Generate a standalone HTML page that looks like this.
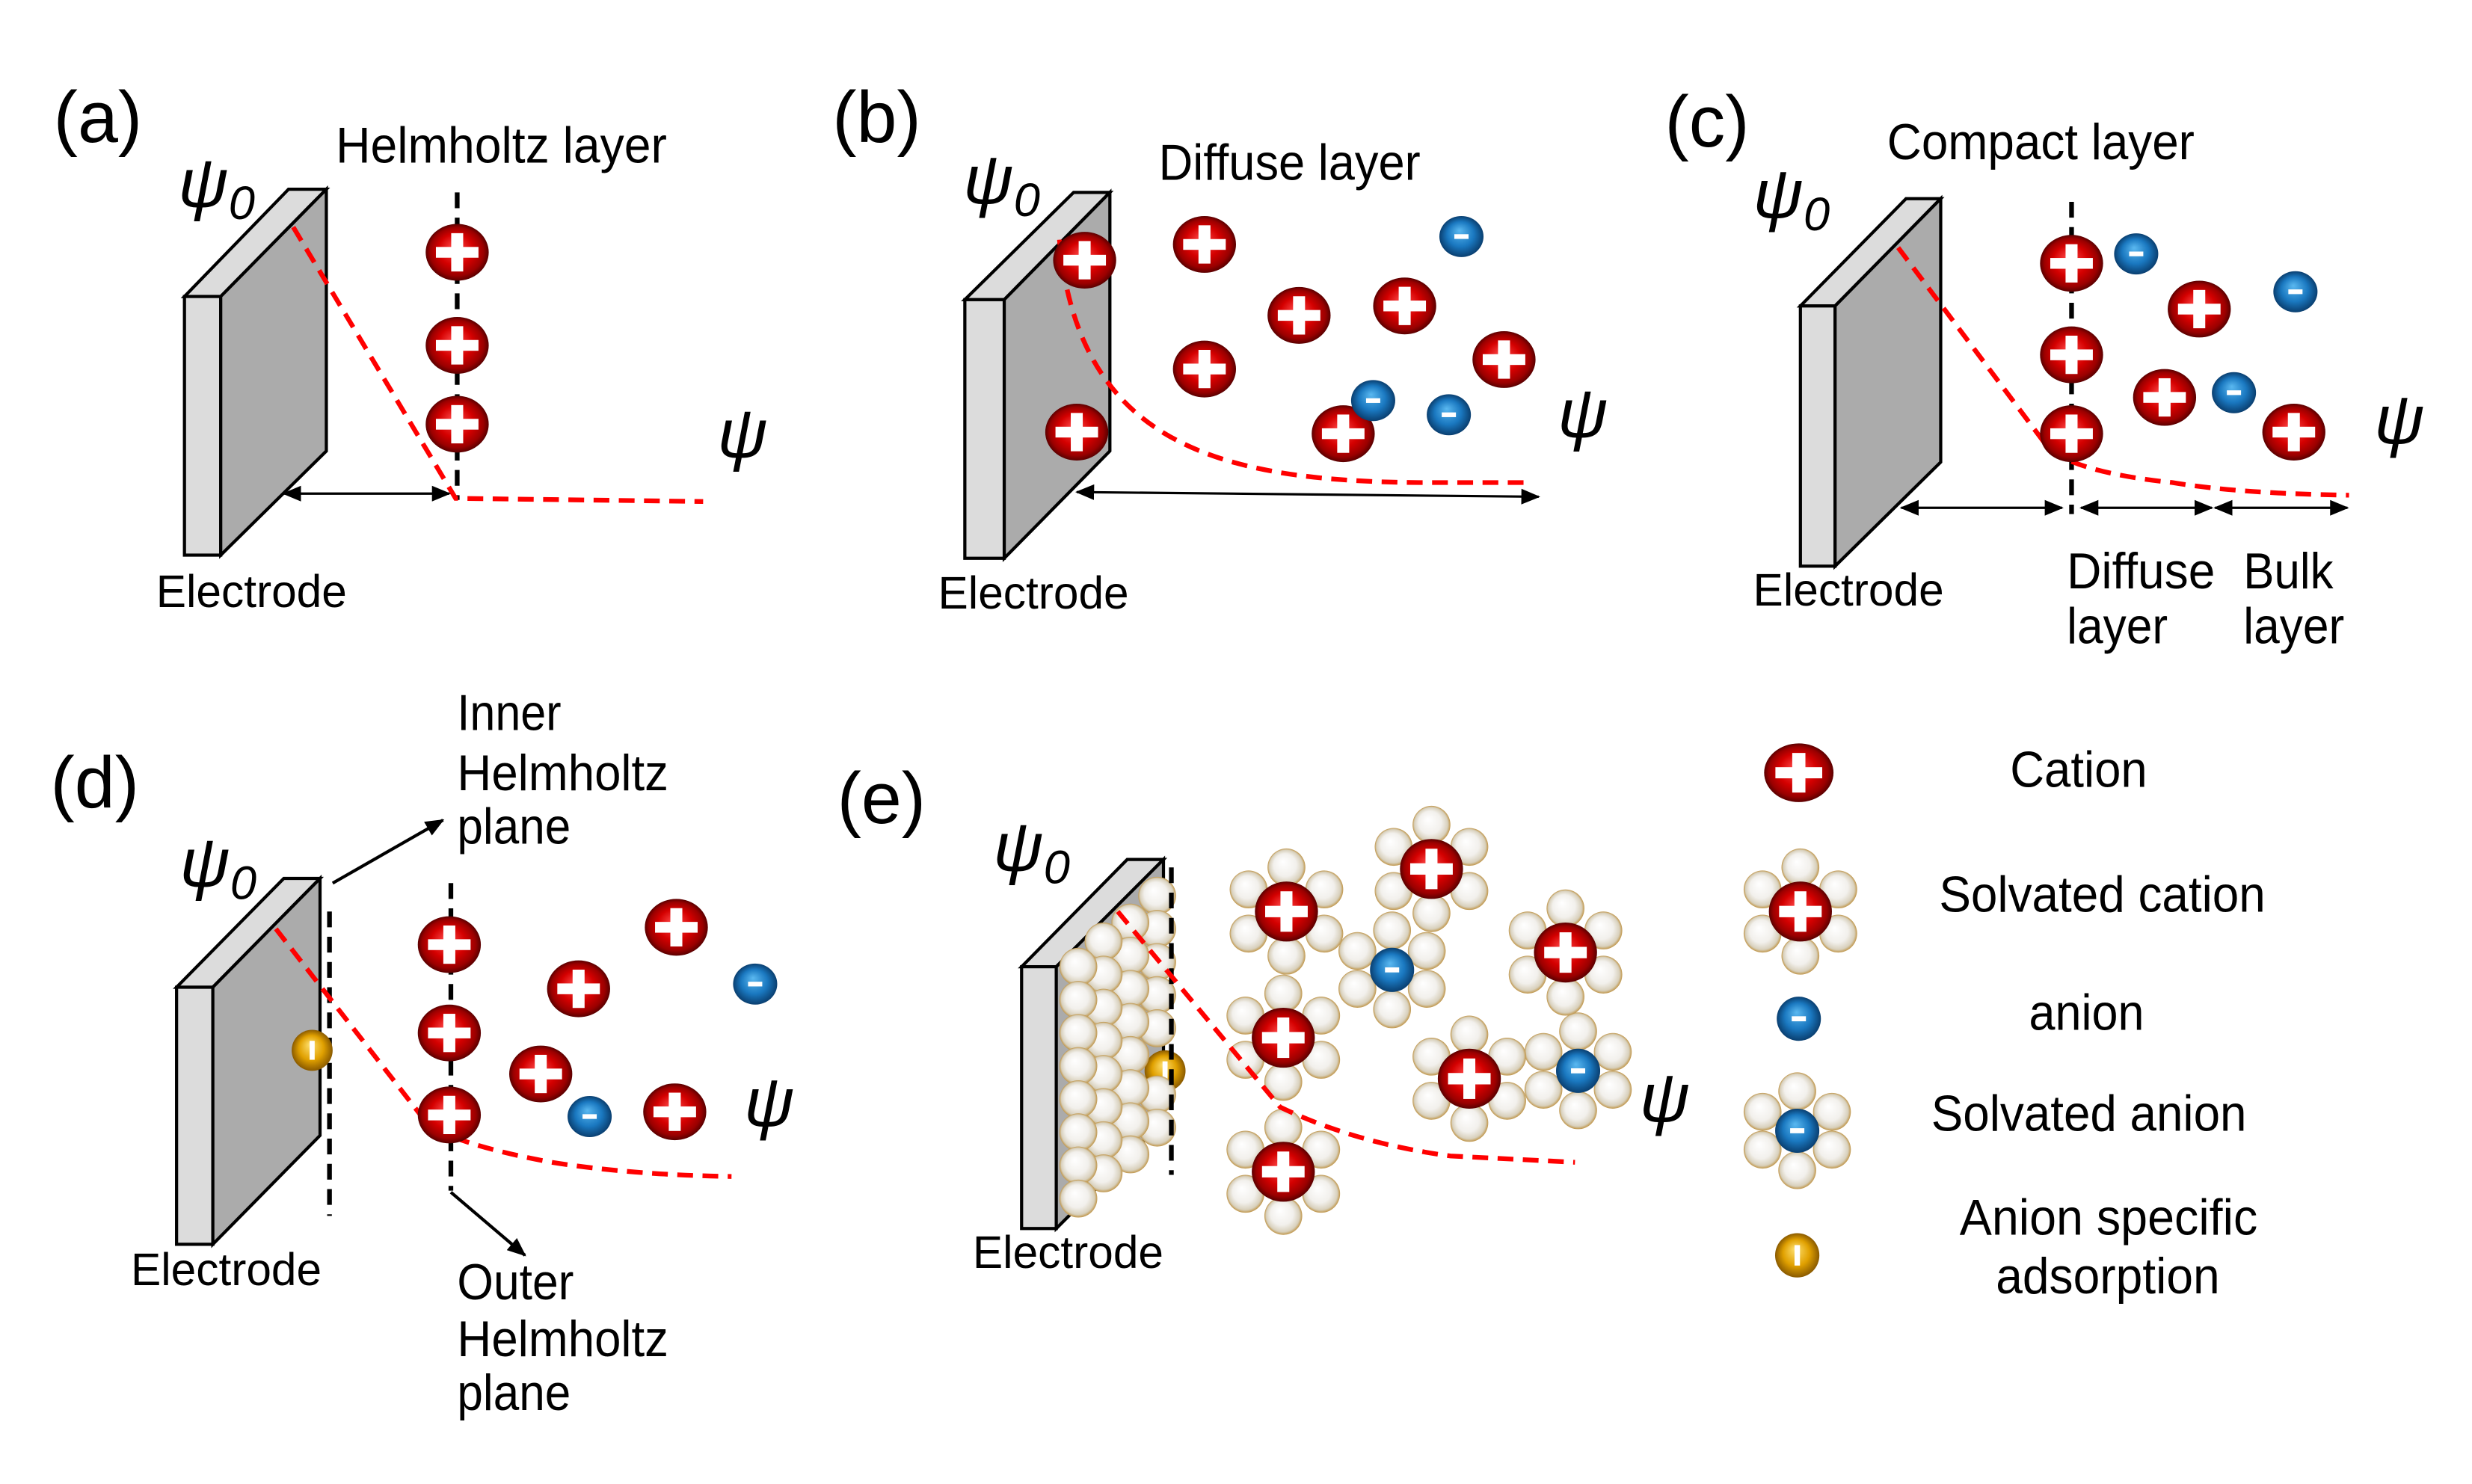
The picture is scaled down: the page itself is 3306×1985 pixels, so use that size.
<!DOCTYPE html>
<html><head><meta charset="utf-8"><style>
html,body{margin:0;padding:0;background:#fff;}
svg{display:block;}
text{font-family:"Liberation Sans",Arial,sans-serif;fill:#000;}
.ps{font-style:italic;}
</style></head><body>
<svg xmlns="http://www.w3.org/2000/svg" xmlns:xlink="http://www.w3.org/1999/xlink" width="3306" height="1985" viewBox="0 0 1568 941" preserveAspectRatio="none">
<defs>
<radialGradient id="gR" cx="0.5" cy="0.5" r="0.5" fx="0.45" fy="0.4">
<stop offset="0" stop-color="#ff4a4a"/><stop offset="0.55" stop-color="#d40000"/><stop offset="0.85" stop-color="#9a0000"/><stop offset="1" stop-color="#5a0000"/></radialGradient>
<radialGradient id="gB" cx="0.5" cy="0.5" r="0.5" fx="0.45" fy="0.35">
<stop offset="0" stop-color="#5ab8f0"/><stop offset="0.6" stop-color="#1a78c0"/><stop offset="1" stop-color="#0a3f70"/></radialGradient>
<radialGradient id="gS" cx="0.5" cy="0.5" r="0.5" fx="0.4" fy="0.35">
<stop offset="0" stop-color="#ffffff"/><stop offset="0.6" stop-color="#f2f0ec"/><stop offset="0.88" stop-color="#d8d0bc"/><stop offset="1" stop-color="#c0964a"/></radialGradient>
<radialGradient id="gY" cx="0.5" cy="0.5" r="0.5" fx="0.45" fy="0.35">
<stop offset="0" stop-color="#ffe070"/><stop offset="0.6" stop-color="#e0a000"/><stop offset="1" stop-color="#8a5a00"/></radialGradient>
<g id="cat"><circle r="20" fill="url(#gR)"/><rect x="-3.8" y="-13.5" width="7.6" height="27" fill="#fff"/><rect x="-13.5" y="-3.8" width="27" height="7.6" fill="#fff"/></g>
<g id="an"><circle r="14" fill="url(#gB)"/><rect x="-4.5" y="-1.6" width="9" height="3.2" fill="#fff"/></g>
<g id="sv"><circle r="12" fill="url(#gS)"/></g>
<g id="au"><circle r="13" fill="url(#gY)"/><rect x="-1.6" y="-6" width="3.2" height="12" fill="#fff"/></g>
<g id="scat">
<use xlink:href="#sv" x="0" y="-28"/><use xlink:href="#sv" x="24" y="-14"/><use xlink:href="#sv" x="24" y="14"/><use xlink:href="#sv" x="0" y="28"/><use xlink:href="#sv" x="-24" y="14"/><use xlink:href="#sv" x="-24" y="-14"/>
<use xlink:href="#cat" transform="scale(1,0.95)"/></g>
<g id="san">
<use xlink:href="#sv" x="0" y="-25"/><use xlink:href="#sv" x="22" y="-12"/><use xlink:href="#sv" x="22" y="12"/><use xlink:href="#sv" x="0" y="25"/><use xlink:href="#sv" x="-22" y="12"/><use xlink:href="#sv" x="-22" y="-12"/>
<use xlink:href="#an"/></g>
<marker id="ah" viewBox="0 0 12 10" refX="11" refY="5" markerWidth="12" markerHeight="10" markerUnits="userSpaceOnUse" orient="auto-start-reverse"><path d="M0,0 L12,5 L0,10 Z" fill="#000"/></marker>
</defs>

<g fill="none" stroke-linejoin="miter">
<polygon points="117,188 140,188 207,120 183,120" fill="#dcdcdc" stroke="#000" stroke-width="2"/>
<rect x="117" y="188" width="23" height="164" fill="#dcdcdc" stroke="#000" stroke-width="2"/>
<polygon points="140,188 207,120 207,286 140,352" fill="#ababab" stroke="#000" stroke-width="2"/>
<line x1="290" y1="122" x2="290" y2="317" stroke="#000" stroke-width="3" stroke-dasharray="10,6"/>
<path d="M186,144 L289,316 L446,318" stroke="#ff0000" stroke-width="3" stroke-dasharray="10,6"/>
<line x1="180" y1="313" x2="285" y2="313" stroke="#000" stroke-width="1.5" marker-start="url(#ah)" marker-end="url(#ah)"/>
</g>
<use xlink:href="#cat" transform="translate(290,160) scale(1,0.9)"/>
<use xlink:href="#cat" transform="translate(290,219) scale(1,0.9)"/>
<use xlink:href="#cat" transform="translate(290,269) scale(1,0.9)"/>
<text x="34" y="90" font-size="46">(a)</text>
<text x="213" y="103" font-size="32" textLength="210" lengthAdjust="spacingAndGlyphs">Helmholtz layer</text>
<text x="113" y="131" font-size="44" class="ps">ψ<tspan font-size="30" dy="8">0</tspan></text>
<text x="455" y="290" font-size="44" class="ps">ψ</text>
<text x="99" y="385" font-size="29" textLength="121" lengthAdjust="spacingAndGlyphs">Electrode</text>

<g fill="none">
<polygon points="612,190 637,190 704,122 681,122" fill="#dcdcdc" stroke="#000" stroke-width="2"/>
<rect x="612" y="190" width="25" height="164" fill="#dcdcdc" stroke="#000" stroke-width="2"/>
<polygon points="637,190 704,122 704,286 637,354" fill="#ababab" stroke="#000" stroke-width="2"/>
<path d="M672,152 C684,280 770,305 900,306 L971,306" stroke="#ff0000" stroke-width="3" stroke-dasharray="10,6"/>
<line x1="683" y1="312" x2="976" y2="315" stroke="#000" stroke-width="1.5" marker-start="url(#ah)" marker-end="url(#ah)"/>
</g>
<use xlink:href="#cat" transform="translate(688,165) scale(1,0.9)"/>
<use xlink:href="#cat" transform="translate(764,155) scale(1,0.9)"/>
<use xlink:href="#cat" transform="translate(824,200) scale(1,0.9)"/>
<use xlink:href="#cat" transform="translate(891,194) scale(1,0.9)"/>
<use xlink:href="#cat" transform="translate(764,234) scale(1,0.9)"/>
<use xlink:href="#cat" transform="translate(954,228) scale(1,0.9)"/>
<use xlink:href="#cat" transform="translate(683,274) scale(1,0.9)"/>
<use xlink:href="#cat" transform="translate(852,275) scale(1,0.9)"/>
<use xlink:href="#an" transform="translate(927,150) scale(1,0.93)"/>
<use xlink:href="#an" transform="translate(871,254) scale(1,0.93)"/>
<use xlink:href="#an" transform="translate(919,263) scale(1,0.93)"/>
<text x="528" y="90" font-size="46">(b)</text>
<text x="735" y="114" font-size="32" textLength="166" lengthAdjust="spacingAndGlyphs">Diffuse layer</text>
<text x="611" y="129" font-size="44" class="ps">ψ<tspan font-size="30" dy="8">0</tspan></text>
<text x="988" y="277" font-size="44" class="ps">ψ</text>
<text x="595" y="386" font-size="29" textLength="121" lengthAdjust="spacingAndGlyphs">Electrode</text>

<g fill="none">
<polygon points="1142,194 1164,194 1231,126 1209,126" fill="#dcdcdc" stroke="#000" stroke-width="2"/>
<rect x="1142" y="194" width="22" height="165" fill="#dcdcdc" stroke="#000" stroke-width="2"/>
<polygon points="1164,194 1231,126 1231,293 1164,359" fill="#ababab" stroke="#000" stroke-width="2"/>
<line x1="1314" y1="128" x2="1314" y2="326" stroke="#000" stroke-width="3" stroke-dasharray="10,6"/>
<path d="M1204,157 L1300,285 Q1320,300 1378,306 Q1420,313 1490,314" stroke="#ff0000" stroke-width="3" stroke-dasharray="10,6"/>
<line x1="1206" y1="322" x2="1308" y2="322" stroke="#000" stroke-width="1.5" marker-start="url(#ah)" marker-end="url(#ah)"/>
<line x1="1320" y1="322" x2="1403" y2="322" stroke="#000" stroke-width="1.5" marker-start="url(#ah)" marker-end="url(#ah)"/>
<line x1="1405" y1="322" x2="1489" y2="322" stroke="#000" stroke-width="1.5" marker-start="url(#ah)" marker-end="url(#ah)"/>
</g>
<use xlink:href="#cat" transform="translate(1314,167) scale(1,0.9)"/>
<use xlink:href="#cat" transform="translate(1314,225) scale(1,0.9)"/>
<use xlink:href="#cat" transform="translate(1314,275) scale(1,0.9)"/>
<use xlink:href="#cat" transform="translate(1395,196) scale(1,0.9)"/>
<use xlink:href="#cat" transform="translate(1373,252) scale(1,0.9)"/>
<use xlink:href="#cat" transform="translate(1455,274) scale(1,0.9)"/>
<use xlink:href="#an" transform="translate(1355,161) scale(1,0.93)"/>
<use xlink:href="#an" transform="translate(1456,185) scale(1,0.93)"/>
<use xlink:href="#an" transform="translate(1417,249) scale(1,0.93)"/>
<text x="1056" y="93" font-size="46">(c)</text>
<text x="1197" y="101" font-size="32" textLength="195" lengthAdjust="spacingAndGlyphs">Compact layer</text>
<text x="1112" y="138" font-size="44" class="ps">ψ<tspan font-size="30" dy="8">0</tspan></text>
<text x="1506" y="281" font-size="44" class="ps">ψ</text>
<text x="1112" y="384" font-size="29" textLength="121" lengthAdjust="spacingAndGlyphs">Electrode</text>
<text x="1311" y="373" font-size="32" textLength="94" lengthAdjust="spacingAndGlyphs">Diffuse</text>
<text x="1311" y="408" font-size="32" textLength="64" lengthAdjust="spacingAndGlyphs">layer</text>
<text x="1423" y="373" font-size="32" textLength="57" lengthAdjust="spacingAndGlyphs">Bulk</text>
<text x="1423" y="408" font-size="32" textLength="64" lengthAdjust="spacingAndGlyphs">layer</text>

<g fill="none">
<polygon points="112,626 135,626 203,557 180,557" fill="#dcdcdc" stroke="#000" stroke-width="2"/>
<rect x="112" y="626" width="23" height="163" fill="#dcdcdc" stroke="#000" stroke-width="2"/>
<polygon points="135,626 203,557 203,720 135,789" fill="#ababab" stroke="#000" stroke-width="2"/>
<line x1="209" y1="578" x2="209" y2="771" stroke="#000" stroke-width="3" stroke-dasharray="10,6"/>
<line x1="286" y1="560" x2="286" y2="755" stroke="#000" stroke-width="3" stroke-dasharray="10,6"/>
<path d="M175,589 L273,715 Q300,728 350,737 Q400,745 464,746" stroke="#ff0000" stroke-width="3" stroke-dasharray="10,6"/>
<line x1="211" y1="560" x2="281" y2="520" stroke="#000" stroke-width="2" marker-end="url(#ah)"/>
<line x1="286" y1="756" x2="333" y2="796" stroke="#000" stroke-width="2" marker-end="url(#ah)"/>
</g>
<use xlink:href="#au" x="198" y="666"/>
<use xlink:href="#cat" transform="translate(285,599) scale(1,0.9)"/>
<use xlink:href="#cat" transform="translate(285,655) scale(1,0.9)"/>
<use xlink:href="#cat" transform="translate(285,707) scale(1,0.9)"/>
<use xlink:href="#cat" transform="translate(429,588) scale(1,0.9)"/>
<use xlink:href="#cat" transform="translate(367,627) scale(1,0.9)"/>
<use xlink:href="#cat" transform="translate(343,681) scale(1,0.9)"/>
<use xlink:href="#cat" transform="translate(428,705) scale(1,0.9)"/>
<use xlink:href="#an" transform="translate(479,624) scale(1,0.93)"/>
<use xlink:href="#an" transform="translate(374,708) scale(1,0.93)"/>
<text x="32" y="512" font-size="46">(d)</text>
<text x="290" y="463" font-size="32" textLength="66" lengthAdjust="spacingAndGlyphs">Inner</text>
<text x="290" y="501" font-size="32" textLength="134" lengthAdjust="spacingAndGlyphs">Helmholtz</text>
<text x="290" y="535" font-size="32" textLength="72" lengthAdjust="spacingAndGlyphs">plane</text>
<text x="290" y="824" font-size="32" textLength="74" lengthAdjust="spacingAndGlyphs">Outer</text>
<text x="290" y="860" font-size="32" textLength="134" lengthAdjust="spacingAndGlyphs">Helmholtz</text>
<text x="290" y="894" font-size="32" textLength="72" lengthAdjust="spacingAndGlyphs">plane</text>
<text x="114" y="562" font-size="44" class="ps">ψ<tspan font-size="30" dy="8">0</tspan></text>
<text x="472" y="714" font-size="44" class="ps">ψ</text>
<text x="83" y="815" font-size="29" textLength="121" lengthAdjust="spacingAndGlyphs">Electrode</text>

<g fill="none">
<polygon points="648,613 670,613 738,545 715,545" fill="#dcdcdc" stroke="#000" stroke-width="2"/>
<rect x="648" y="613" width="22" height="166" fill="#dcdcdc" stroke="#000" stroke-width="2"/>
<polygon points="670,613 738,545 738,711 670,779" fill="#ababab" stroke="#000" stroke-width="2"/>
</g>
<g>
<use xlink:href="#au" x="739" y="679"/>
<use xlink:href="#sv" x="734" y="568"/><use xlink:href="#sv" x="734" y="589"/><use xlink:href="#sv" x="734" y="610"/><use xlink:href="#sv" x="734" y="631"/><use xlink:href="#sv" x="734" y="652"/><use xlink:href="#sv" x="734" y="694"/><use xlink:href="#sv" x="734" y="715"/>
<use xlink:href="#sv" x="717" y="585"/><use xlink:href="#sv" x="717" y="606"/><use xlink:href="#sv" x="717" y="627"/><use xlink:href="#sv" x="717" y="648"/><use xlink:href="#sv" x="717" y="669"/><use xlink:href="#sv" x="717" y="690"/><use xlink:href="#sv" x="717" y="711"/><use xlink:href="#sv" x="717" y="732"/>
<use xlink:href="#sv" x="700" y="597"/><use xlink:href="#sv" x="700" y="618"/><use xlink:href="#sv" x="700" y="639"/><use xlink:href="#sv" x="700" y="660"/><use xlink:href="#sv" x="700" y="681"/><use xlink:href="#sv" x="700" y="702"/><use xlink:href="#sv" x="700" y="723"/><use xlink:href="#sv" x="700" y="744"/>
<use xlink:href="#sv" x="684" y="613"/><use xlink:href="#sv" x="684" y="634"/><use xlink:href="#sv" x="684" y="655"/><use xlink:href="#sv" x="684" y="676"/><use xlink:href="#sv" x="684" y="697"/><use xlink:href="#sv" x="684" y="718"/><use xlink:href="#sv" x="684" y="739"/><use xlink:href="#sv" x="684" y="760"/>
</g>
<line x1="743" y1="550" x2="743" y2="745" stroke="#000" stroke-width="3" stroke-dasharray="10,6"/>
<use xlink:href="#san" x="883" y="615"/>
<use xlink:href="#san" x="1001" y="679"/>
<use xlink:href="#scat" x="816" y="578"/>
<use xlink:href="#scat" x="908" y="551"/>
<use xlink:href="#scat" x="993" y="604"/>
<use xlink:href="#scat" x="814" y="658"/>
<use xlink:href="#scat" x="814" y="743"/>
<use xlink:href="#scat" x="932" y="684"/>
<path d="M709,578 L812,702 Q860,725 920,733 L999,737" fill="none" stroke="#ff0000" stroke-width="3" stroke-dasharray="10,6"/>
<text x="531" y="522" font-size="46">(e)</text>
<text x="630" y="552" font-size="44" class="ps">ψ<tspan font-size="30" dy="8">0</tspan></text>
<text x="1040" y="711" font-size="44" class="ps">ψ</text>
<text x="617" y="804" font-size="29" textLength="121" lengthAdjust="spacingAndGlyphs">Electrode</text>

<use xlink:href="#cat" transform="translate(1141,490) scale(1.1,0.93)"/>
<use xlink:href="#scat" x="1142" y="578"/>
<use xlink:href="#an" x="1141" y="646"/>
<use xlink:href="#san" x="1140" y="717"/>
<use xlink:href="#au" transform="translate(1140,796) scale(1.08)"/>
<text x="1275" y="499" font-size="32" textLength="87" lengthAdjust="spacingAndGlyphs">Cation</text>
<text x="1230" y="578" font-size="32" textLength="207" lengthAdjust="spacingAndGlyphs">Solvated cation</text>
<text x="1287" y="653" font-size="32" textLength="73" lengthAdjust="spacingAndGlyphs">anion</text>
<text x="1225" y="717" font-size="32" textLength="200" lengthAdjust="spacingAndGlyphs">Solvated anion</text>
<text x="1243" y="783" font-size="32" textLength="189" lengthAdjust="spacingAndGlyphs">Anion specific</text>
<text x="1266" y="820" font-size="32" textLength="142" lengthAdjust="spacingAndGlyphs">adsorption</text>
</svg>
</body></html>
